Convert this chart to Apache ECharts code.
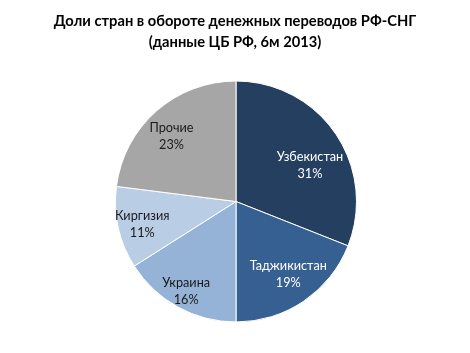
<!DOCTYPE html>
<html><head><meta charset="utf-8">
<script src="https://cdn.jsdelivr.net/npm/echarts@6/dist/echarts.min.js"></script>
<style>html,body{margin:0;padding:0;background:#fff}#c{width:470px;height:353px}</style>
</head><body><div id="c"></div>
<script>
const categories = ['Узбекистан', 'Таджикистан', 'Украина', 'Киргизия', 'Прочие'];
const values = [31, 19, 16, 11, 23];
const colors = ['#243F60', '#376092', '#95B3D7', '#B9CDE5', '#A6A6A6'];
const labelColors = ['#ffffff', '#ffffff', '#1a1a1a', '#1a1a1a', '#1a1a1a'];
const labelNudges = [[-3, 16], [0, -4], [-5, 8], [-3, 3], [-3, 5]];
const titleLines = ['Доли стран в обороте денежных переводов РФ-СНГ', '(данные ЦБ РФ, 6м 2013)'];

const FONT = "Lato, 'Liberation Sans', sans-serif";
const chart = echarts.init(document.getElementById('c'), null, {renderer: 'canvas'});
const pieData = categories.map((n, i) => ({name: n, value: values[i], itemStyle: {color: colors[i]}}));
const labelData = categories.map((n, i) => ({name: n, value: values[i], label: {color: labelColors[i]}}));
chart.setOption({
  animation: false,
  title: {
    text: titleLines.join('\n'), left: 'center', top: 6,
    textStyle: {fontFamily: FONT, fontWeight: 'bold', fontSize: 14.7, lineHeight: 21, color: '#000'}
  },
  series: [{
    type: 'pie', center: [236, 201.5], radius: [0, 120.5], startAngle: 90, clockwise: true,
    silent: true, label: {show: false}, labelLine: {show: false},
    itemStyle: {borderColor: '#fff', borderWidth: 1},
    data: pieData
  }, {
    type: 'pie', center: [236, 201.5], radius: [60, 120], startAngle: 90, clockwise: true,
    silent: true, itemStyle: {color: 'rgba(0,0,0,0)'},
    label: {show: true, position: 'inside', overflow: 'none', formatter: '{b}\n{c}%', fontFamily: FONT, fontSize: 12.7, lineHeight: 17},
    labelLine: {show: false},
    labelLayout: p => ({dx: labelNudges[p.dataIndex][0], dy: labelNudges[p.dataIndex][1]}),
    data: labelData
  }]
});
</script></body></html>
